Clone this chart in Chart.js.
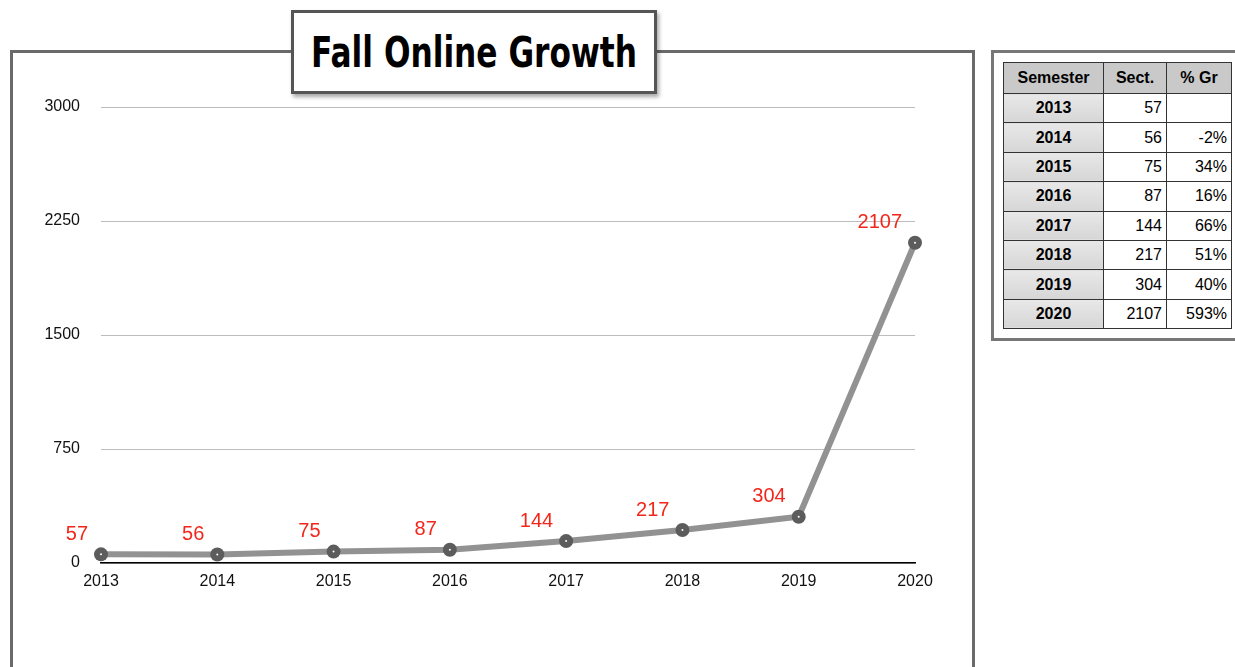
<!DOCTYPE html>
<html>
<head>
<meta charset="utf-8">
<script src="https://cdn.jsdelivr.net/npm/chart.js@4"></script>
<style>
  html, body { margin: 0; padding: 0; background: #fff; }
  body { width: 1235px; height: 667px; position: relative; overflow: hidden; font-family: "Liberation Sans", Arial, sans-serif; }
  #frame { position: absolute; left: 10px; top: 50px; width: 959px; height: 640px; border: 3px solid #6a6a6a; }
  #titleBox { position: absolute; left: 291px; top: 10px; width: 360px; height: 78px; border: 3px solid #555; background: #fff;
    box-shadow: 2px 3px 4px rgba(0,0,0,0.35); overflow: hidden; }
  #titleText { position: absolute; left: 50%; top: 0; line-height: 80px; white-space: nowrap;
    font-family: "DejaVu Sans", sans-serif; font-weight: bold; font-size: 42px; color: #000; transform-origin: left center; }
  #tableFrame { position: absolute; left: 991px; top: 50px; width: 260px; height: 285px; border: 3px solid #777; }
  #tbl { position: absolute; left: 1003px; top: 62px; border-collapse: collapse; font-size: 16px; }
  #tbl td, #tbl th { border: 1px solid #333; padding: 0 4px; height: 28.4px; }
  #tbl th { background: #c9c9c9; font-weight: bold; text-align: center; height: 30px; }
  #tbl td.yr { background: linear-gradient(#e8e8e8, #d6d6d6); font-weight: bold; text-align: center; width: 91px; }
  #tbl td.num { text-align: right; width: 54px; }
  #tbl td.pct { text-align: right; width: 56px; }
  #chartWrap { position: absolute; left: 0; top: 0; width: 1235px; height: 667px; }
</style>
</head>
<body>
<div id="frame"></div>
<div id="titleBox"><span id="titleText">Fall Online Growth</span></div>
<div id="tableFrame"></div>
<table id="tbl"><thead><tr><th>Semester</th><th>Sect.</th><th>% Gr</th></tr></thead><tbody id="tbody"></tbody></table>
<div id="chartWrap"><canvas id="growthChart" width="1235" height="667"></canvas></div>
<script>
const years = ['2013', '2014', '2015', '2016', '2017', '2018', '2019', '2020'];
const sections = [57, 56, 75, 87, 144, 217, 304, 2107];
const growth = ['', '-2%', '34%', '16%', '66%', '51%', '40%', '593%'];
const yTicks = [0, 750, 1500, 2250, 3000];

// squeeze the title to a condensed look, kept centred in its box
const titleText = document.getElementById('titleText');
const w = titleText.getBoundingClientRect().width;
const s = 326 / w;
titleText.style.transform = `translateX(${-w * s / 2}px) scaleX(${s})`;

// table beside the chart
const tbody = document.getElementById('tbody');
years.forEach((yr, i) => {
  const tr = document.createElement('tr');
  tr.innerHTML = `<td class="yr">${yr}</td><td class="num">${sections[i]}</td><td class="pct">${growth[i]}</td>`;
  tbody.appendChild(tr);
});

const valueLabels = {
  id: 'valueLabels',
  afterDatasetsDraw(chart) {
    const ctx = chart.ctx;
    const meta = chart.getDatasetMeta(0);
    ctx.save();
    meta.data.forEach((pt, i) => {
      // little white dot in the middle of each marker
      ctx.fillStyle = '#fff';
      ctx.beginPath();
      ctx.arc(pt.x, pt.y, 1, 0, Math.PI * 2);
      ctx.fill();
      ctx.fillStyle = '#f2261b';
      ctx.font = '20px "Liberation Sans", Arial, sans-serif';
      ctx.textAlign = 'right';
      ctx.textBaseline = 'bottom';
      ctx.fillText(String(sections[i]), pt.x - 13, pt.y - 10);
    });
    ctx.restore();
  }
};

const tickFont = { size: 16, family: '"Liberation Sans", Arial, sans-serif' };

const ctx = document.getElementById('growthChart');
new Chart(ctx, {
  type: 'line',
  data: {
    labels: years,
    datasets: [{
      data: sections,
      borderColor: '#929292',
      borderWidth: 6,
      pointRadius: 7,
      pointBackgroundColor: '#5c5c5c',
      pointBorderWidth: 0,
      tension: 0
    }]
  },
  options: {
    responsive: false,
    animation: false,
    events: [],
    plugins: { legend: { display: false }, tooltip: { enabled: false } },
    layout: { padding: { left: 0, right: 320, top: 107, bottom: 74 } },
    scales: {
      x: {
        offset: false,
        grid: { display: false, drawTicks: false },
        border: { display: true, color: '#000', width: 1.5 },
        ticks: { color: '#111', font: tickFont, padding: 9, maxRotation: 0 },
        afterFit: (scale) => { scale.height = 30; }
      },
      y: {
        min: 0,
        max: 3000,
        afterBuildTicks: (scale) => { scale.ticks = yTicks.map(v => ({ value: v })); },
        grid: { color: '#bdbdbd', lineWidth: 1, drawTicks: false },
        border: { display: false },
        ticks: { color: '#111', font: tickFont, padding: 21, callback: (v) => String(v) },
        afterFit: (scale) => { scale.width = 101; }
      }
    }
  },
  plugins: [valueLabels]
});
</script>
</body>
</html>
